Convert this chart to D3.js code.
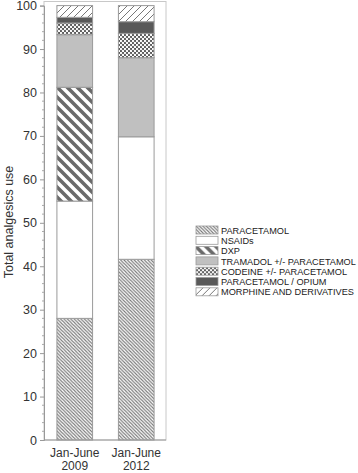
<!DOCTYPE html>
<html><head><meta charset="utf-8">
<script src="https://cdn.jsdelivr.net/npm/d3@7"></script>
<style>body{margin:0;background:#fff}svg{display:block}</style>
</head><body>
<svg id="c" width="358" height="473"></svg>
<script>
const periods = ["Jan-June 2009", "Jan-June 2012"];
const seriesNames = ["PARACETAMOL", "NSAIDs", "DXP", "TRAMADOL +/- PARACETAMOL", "CODEINE +/- PARACETAMOL", "PARACETAMOL / OPIUM", "MORPHINE AND DERIVATIVES"];
const paracetamol = [28.0, 41.6];
const nsaids = [27.0, 28.2];
const dxp = [26.2, 0];
const tramadol = [12.1, 18.2];
const codeine = [2.7, 5.6];
const opium = [1.3, 2.7];
const morphine = [2.7, 3.7];
const yTicks = [0, 10, 20, 30, 40, 50, 60, 70, 80, 90, 100];

const seriesValues = [paracetamol, nsaids, dxp, tramadol, codeine, opium, morphine];
const rows = periods.map((p, i) => {
  const r = {period: p};
  seriesNames.forEach((s, k) => r[s] = seriesValues[k][i]);
  return r;
});

const svg = d3.select("#c");
const defs = svg.append("defs");
function linePattern(id, size, width, color, dir) {
  const p = defs.append("pattern").attr("id", id).attr("patternUnits", "userSpaceOnUse")
    .attr("width", size).attr("height", size);
  p.append("rect").attr("width", size).attr("height", size).attr("fill", "#fff");
  const d = dir === "back"
    ? `M0,0 L${size},${size} M${-size},0 L${size},${2*size} M0,${-size} L${2*size},${size}`
    : `M0,${size} L${size},0 M${-size},${size} L${size},${-size} M0,${2*size} L${2*size},0`;
  p.append("path").attr("d", d).attr("stroke", color).attr("stroke-width", width);
}
linePattern("pPara", 3.4, 1.1, "#777", "back");
linePattern("pDxp", 10, 3.6, "#6a6a6a", "back");
linePattern("pMorph", 7, 1, "#777", "fwd");
const cp = defs.append("pattern").attr("id", "pCod").attr("patternUnits", "userSpaceOnUse")
  .attr("width", 4).attr("height", 4);
cp.append("rect").attr("width", 4).attr("height", 4).attr("fill", "#5a5a5a");
cp.append("circle").attr("cx", 1).attr("cy", 1).attr("r", 1.15).attr("fill", "#fff");
cp.append("circle").attr("cx", 3).attr("cy", 3).attr("r", 1.15).attr("fill", "#fff");

const fills = ["url(#pPara)", "#fff", "url(#pDxp)", "#c0c0c0", "url(#pCod)", "#595959", "url(#pMorph)"];

const x = d3.scaleBand().domain(periods).range([44, 167]).paddingInner(0.42).paddingOuter(0.21);
const y = d3.scaleLinear().domain([0, 100]).range([440, 5.6]);

svg.append("rect").attr("x", 44).attr("y", 1.5).attr("width", 122).attr("height", 438.5)
  .attr("fill", "none").attr("stroke", "#c8c8c8").attr("stroke-width", 1);

const stack = d3.stack().keys(seriesNames)(rows);
stack.forEach((layer, k) => {
  svg.append("g").selectAll("rect").data(layer).join("rect")
    .attr("x", d => x(d.data.period))
    .attr("width", x.bandwidth())
    .attr("y", d => y(d[1]))
    .attr("height", d => y(d[0]) - y(d[1]))
    .attr("fill", fills[k])
    .attr("stroke", d => (d[1] - d[0]) > 0 ? "#9a9a9a" : "none")
    .attr("stroke-width", 1);
});

const ya = svg.append("g").attr("transform", "translate(44,0)")
  .call(d3.axisLeft(y).tickValues(yTicks).tickSize(4).tickPadding(3));
ya.select(".domain").attr("stroke", "#999");
ya.selectAll(".tick line").attr("stroke", "#999");
ya.selectAll("text").attr("font-family", "Arial, 'Liberation Sans', sans-serif").attr("font-size", 12.5).attr("fill", "#333");
const minor = d3.range(0, 101, 2).filter(v => v % 10 !== 0);
svg.append("g").attr("transform", "translate(44,0)").selectAll("line").data(minor).join("line")
  .attr("x1", -2).attr("x2", 0).attr("y1", d => y(d)).attr("y2", d => y(d)).attr("stroke", "#aaa");

svg.append("line").attr("x1", 44).attr("x2", 166).attr("y1", 440).attr("y2", 440).attr("stroke", "#999");
periods.forEach(p => {
  const parts = p.split(" ");
  const t = svg.append("text").attr("text-anchor", "middle")
    .attr("font-family", "Arial, 'Liberation Sans', sans-serif").attr("font-size", 12).attr("fill", "#333");
  parts.forEach((s, i) => t.append("tspan").attr("x", x(p) + x.bandwidth() / 2).attr("y", 457 + i * 12.5).text(s));
});

svg.append("text").attr("transform", "translate(13,222) rotate(-90)").attr("text-anchor", "middle")
  .attr("font-family", "Arial, 'Liberation Sans', sans-serif").attr("font-size", 12.5).attr("fill", "#333")
  .text("Total analgesics use");

const lg = svg.append("g").attr("transform", "translate(196,226)");
seriesNames.forEach((s, k) => {
  const g = lg.append("g").attr("transform", `translate(0,${k * 10.3})`);
  g.append("rect").attr("x", 0).attr("y", 0).attr("width", 22).attr("height", 8)
    .attr("fill", fills[k]).attr("stroke", "#9a9a9a").attr("stroke-width", 0.8);
  g.append("text").attr("x", 25).attr("y", 7.6)
    .attr("font-family", "Arial, 'Liberation Sans', sans-serif").attr("font-size", 9.2).attr("fill", "#222")
    .text(s);
});
</script>
</body></html>
